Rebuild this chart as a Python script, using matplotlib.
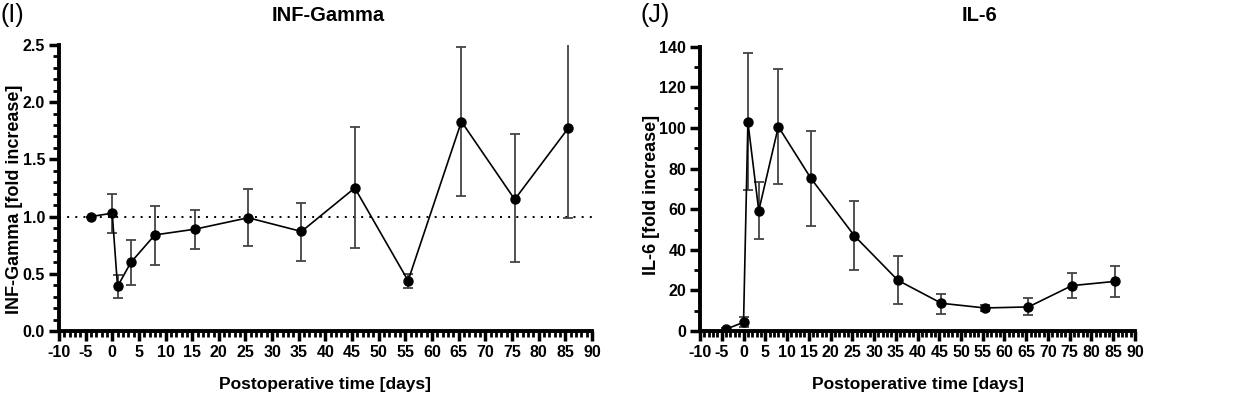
import numpy as np
import matplotlib
matplotlib.use("Agg")
import matplotlib.pyplot as plt
from matplotlib.ticker import MultipleLocator

plt.rcParams['font.family'] = ['Liberation Sans', 'DejaVu Sans']
plt.rcParams['axes.unicode_minus'] = False

# days after surgery (shared by both panels)
days = [-4, 0, 1, 3.5, 8, 15.5, 25.5, 35.5, 45.5, 55.5, 65.5, 75.5, 85.5]

# INF-Gamma fold increase, error bar low / high
ifn_mean = [1.00, 1.03, 0.39, 0.60, 0.84, 0.89, 0.99, 0.87, 1.25, 0.44, 1.83, 1.15, 1.77]
ifn_low = [1.00, 0.86, 0.29, 0.40, 0.58, 0.72, 0.74, 0.61, 0.73, 0.38, 1.18, 0.60, 0.99]
ifn_high = [1.00, 1.20, 0.49, 0.80, 1.09, 1.06, 1.24, 1.12, 1.78, 0.50, 2.48, 1.72, 2.60]

# IL-6 fold increase
il6_mean = [1.0, 4.3, 103.0, 59.3, 100.7, 75.2, 46.9, 25.0, 13.7, 11.4, 11.9, 22.4, 24.5]
il6_low = [0.5, 2.0, 69.5, 45.5, 72.4, 51.7, 30.0, 13.3, 8.6, 9.8, 7.9, 16.5, 16.8]
il6_high = [1.5, 6.8, 137.2, 73.4, 129.0, 98.5, 64.0, 36.8, 18.4, 13.0, 16.1, 28.5, 32.3]


def draw_panel(ax, mean, low, high, ylim, major, minor, ylabel, yfmt, lab_xy):
    mean = np.array(mean)
    yerr = [mean - np.array(low), np.array(high) - mean]
    ax.errorbar(days, mean, yerr=yerr, fmt='none', ecolor='#444444',
                elinewidth=1.3, capsize=3.5, capthick=1.3, zorder=2)
    ax.plot(days, mean, color='black', lw=1.2, marker='o', ms=6.5, zorder=3)
    ax.set_xlim(-10, 90)
    ax.set_ylim(*ylim)
    ax.xaxis.set_major_locator(MultipleLocator(5))
    ax.xaxis.set_minor_locator(MultipleLocator(1))
    ax.yaxis.set_major_locator(MultipleLocator(major))
    ax.yaxis.set_minor_locator(MultipleLocator(minor))
    ax.yaxis.set_major_formatter(yfmt)
    for s in ['top', 'right']:
        ax.spines[s].set_visible(False)
    for s in ['left', 'bottom']:
        ax.spines[s].set_linewidth(2.8)
    ax.tick_params(which='major', length=7, width=2.5, labelsize=11.5, pad=3)
    ax.tick_params(which='minor', length=4.5, width=2.0)
    for lab in ax.get_xticklabels() + ax.get_yticklabels():
        lab.set_fontweight('bold')
    ax.set_xlabel('Postoperative time [days]', fontsize=12.5, fontweight='bold', labelpad=12)
    ax.set_ylabel(ylabel, fontsize=13, fontweight='bold', va='center')
    ax.yaxis.set_label_coords(*lab_xy)


fig = plt.figure(figsize=(12.53, 3.97), dpi=100)
ax1 = fig.add_axes([0.047, 0.166, 0.4255, 0.721])
ax2 = fig.add_axes([0.5587, 0.166, 0.3471, 0.716])

draw_panel(ax1, ifn_mean, ifn_low, ifn_high, (0, 2.5), 0.5, 0.1,
           'INF-Gamma [fold increase]', '{x:.1f}', (-0.084, 0.46))
ax1.axhline(1.0, color='black', lw=1.4, ls=(0, (1, 3.2)), zorder=1)

draw_panel(ax2, il6_mean, il6_low, il6_high, (0, 140), 20, 10,
           'IL-6 [fold increase]', '{x:.0f}', (-0.112, 0.48))

fig.text(0.0, 0.962, '(I)', fontsize=18, va='center', ha='left')
fig.text(0.511, 0.962, '(J)', fontsize=18, va='center', ha='left')
fig.text(0.262, 0.962, 'INF-Gamma', fontsize=14.5, fontweight='bold', va='center', ha='center')
fig.text(0.782, 0.962, 'IL-6', fontsize=14.5, fontweight='bold', va='center', ha='center')

fig.savefig('out.png', dpi=100)
